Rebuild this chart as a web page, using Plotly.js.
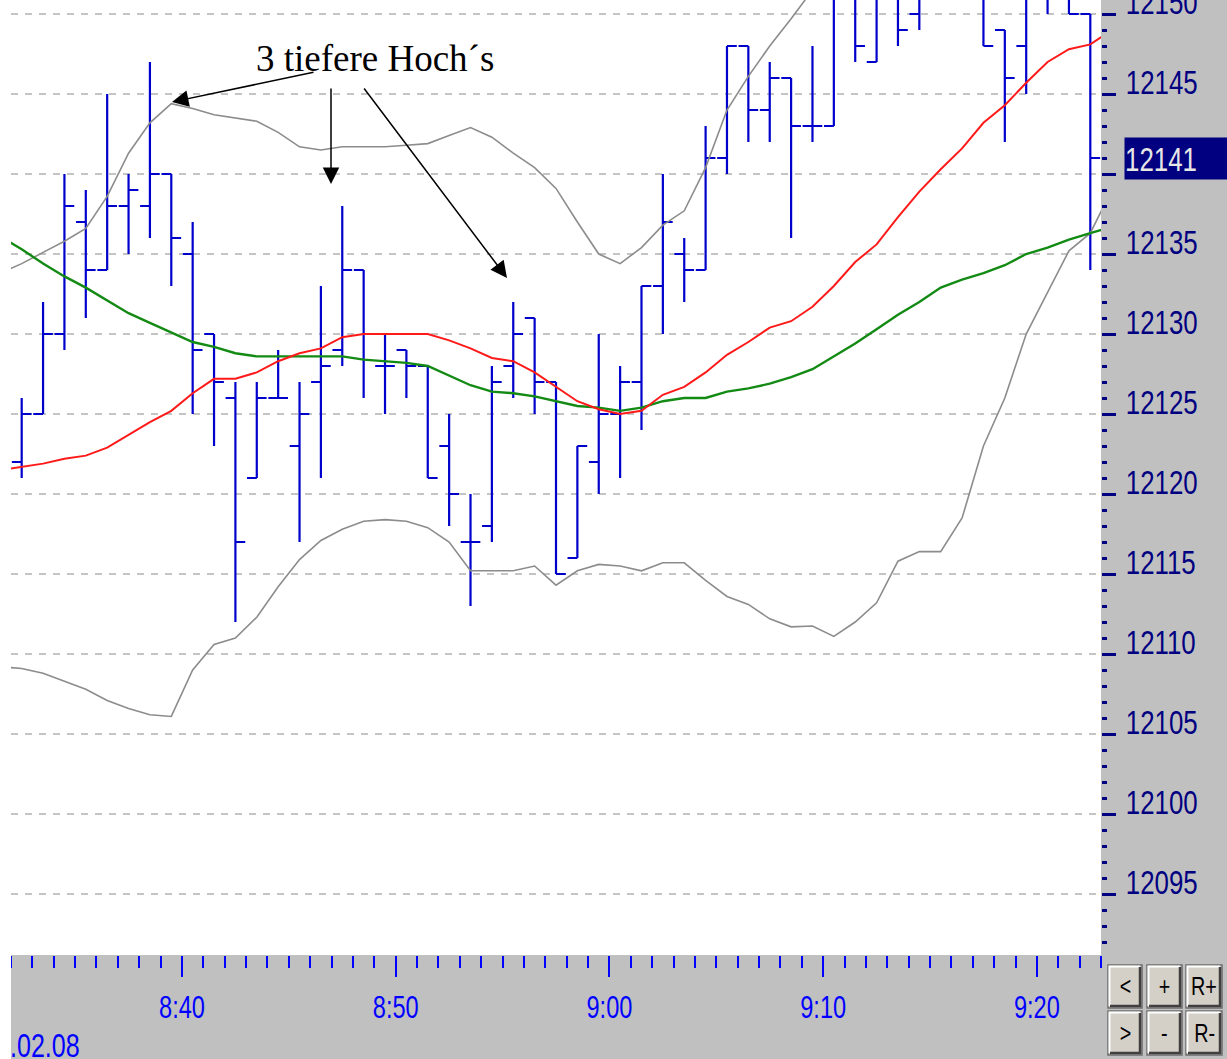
<!DOCTYPE html>
<html><head><meta charset="utf-8">
<script src="https://cdn.plot.ly/plotly-3.0.1.min.js"></script>
<style>html,body{margin:0;padding:0;background:#fff;overflow:hidden}#chart{width:1227px;height:1059px}</style>
</head><body><div id="chart"></div>
<script>
// ---------- data ----------
const chartDate = '2008-02-08';
const barTimes = ['8:32','8:33','8:34','8:35','8:36','8:37','8:38','8:39','8:40','8:41','8:42','8:43','8:44','8:45','8:46','8:47','8:48','8:49','8:50','8:51','8:52','8:53','8:54','8:55','8:56','8:57','8:58','8:59','9:00','9:01','9:02','9:03','9:04','9:05','9:06','9:07','9:08','9:09','9:10','9:11','9:12','9:13','9:14','9:15','9:16','9:17','9:18','9:19','9:20','9:21','9:22'];
const openVals  = [12122,12125,12130,12137,12134,12138,12138,12140,12135,12130,12126,12121,12126,12123,12127,12129,12134,12128,12129,12128,12123,12117,12118,12128,12131,12127,12116,12122,12125,12127,12133,12135,12134,12141,12148,12144,12146,12143,12143,12152,12147,12153,12150,12155,12156,12153,12149,12148,12152,12152,12150];
const highVals  = [12126,12132,12140,12139,12145,12140,12147,12140,12137,12130,12127,12127,12129,12127,12133,12138,12134,12130,12129,12128,12125,12120,12128,12132,12131,12127,12123,12130,12128,12133,12140,12136,12143,12148,12148,12147,12146,12148,12153,12153,12154,12155,12156,12158,12157,12154,12149,12153,12154,12153,12150];
const lowVals   = [12121,12125,12129,12131,12134,12135,12136,12133,12125,12123,12112,12121,12126,12117,12121,12128,12126,12125,12126,12121,12118,12113,12117,12126,12125,12115,12116,12120,12121,12124,12130,12132,12134,12140,12142,12142,12136,12142,12143,12147,12147,12148,12149,12152,12152,12148,12142,12145,12150,12150,12134];
const closeVals = [12125,12130,12138,12134,12138,12139,12140,12136,12129,12127,12117,12126,12126,12125,12128,12134,12130,12128,12128,12121,12120,12117,12127,12130,12127,12115,12123,12125,12127,12133,12137,12134,12141,12148,12144,12146,12143,12143,12152,12148,12153,12149,12155,12156,12153,12148,12146,12152,12152,12150,12141];

const lineTimes = ['8:31','8:32','8:33','8:34','8:35','8:36','8:37','8:38','8:39','8:40','8:41','8:42','8:43','8:44','8:45','8:46','8:47','8:48','8:49','8:50','8:51','8:52','8:53','8:54','8:55','8:56','8:57','8:58','8:59','9:00','9:01','9:02','9:03','9:04','9:05','9:06','9:07','9:08','9:09','9:10','9:11','9:12','9:13','9:14','9:15','9:16','9:17','9:18','9:19','9:20','9:21','9:22','9:23'];
const maFast = [12121.5,12121.7,12121.9,12122.2,12122.4,12122.9,12123.7,12124.5,12125.2,12126.3,12127.2,12127.2,12127.6,12128.3,12128.8,12129.1,12129.8,12130,12130,12130,12130,12129.6,12129.1,12128.5,12128.3,12127.6,12126.7,12125.8,12125.3,12125,12125.2,12126.2,12126.7,12127.6,12128.7,12129.5,12130.4,12130.8,12131.7,12133,12134.5,12135.6,12137.3,12138.9,12140.3,12141.6,12143.2,12144.3,12145.7,12147,12147.8,12148.1,12149];
const maSlow = [12136.1,12135.3,12134.4,12133.6,12132.9,12132.1,12131.3,12130.7,12130.1,12129.5,12129.2,12128.8,12128.6,12128.6,12128.6,12128.6,12128.6,12128.4,12128.3,12128.2,12128,12127.4,12126.8,12126.4,12126.3,12126.1,12125.8,12125.5,12125.4,12125.2,12125.4,12125.8,12126,12126,12126.4,12126.6,12126.9,12127.3,12127.8,12128.6,12129.4,12130.3,12131.2,12132,12132.9,12133.4,12133.8,12134.3,12135,12135.4,12135.9,12136.3,12136.7];
const bandUpper = [12133.8,12134.4,12135.1,12135.8,12136.6,12138.6,12141.3,12143.2,12144.4,12144.1,12143.7,12143.5,12143.3,12142.6,12141.7,12141.5,12141.7,12141.7,12141.7,12141.8,12141.9,12142.4,12142.9,12142.3,12141.3,12140.4,12139.1,12137,12135,12134.4,12135.4,12136.8,12137.7,12140.4,12144,12146.1,12148,12149.7,12151.5,12153,12154.5,12155.5,12156.5,12157.5,12158.2,12158.8,12159.2,12159.6,12160,12160.2,12160.4,12160.5,12160.6];
const bandLower = [12109.2,12109.1,12108.8,12108.3,12107.8,12107.1,12106.6,12106.2,12106.1,12109,12110.6,12111,12112.3,12114.2,12115.9,12117.1,12117.8,12118.3,12118.4,12118.3,12117.9,12117,12115.2,12115.2,12115.2,12115.5,12114.3,12115.2,12115.6,12115.5,12115.2,12115.7,12115.7,12114.6,12113.6,12113.1,12112.2,12111.7,12111.75,12111.1,12112,12113.2,12115.8,12116.4,12116.4,12118.5,12123,12126,12130,12132.6,12135.2,12136.3,12139];

const yTickVals = [12095,12100,12105,12110,12115,12120,12125,12130,12135,12140,12145,12150];
const yTickText = ['12095','12100','12105','12110','12115','12120','12125','12130','12135','','12145','12150'];
const lastPrice = 12141;
const noteText = '3 tiefere Hoch\u00b4s';
const dateLabel = '.02.08';
const buttonLabels = ['<','+','R+','>','-','R-'];

// ---------- helpers ----------
function pad(t){const p=t.split(':');return (p[0].length<2?'0':'')+p[0]+':'+p[1];}
function toDate(t){return chartDate+' '+pad(t);}
const W=1227,H=1059,L=11,R=1101,T=0,B=955;
const px=x=>(x-L)/(R-L);
const py=y=>(B-y)/(B-T);

const SANS='"Liberation Sans",Arial,sans-serif';

const traces=[
 {type:'ohlc',x:barTimes.map(toDate),open:openVals,high:highVals,low:lowVals,close:closeVals,
  xperiod:60000,xperiodalignment:'middle',tickwidth:0.46,
  increasing:{line:{color:'#0000cc',width:2.2}},decreasing:{line:{color:'#0000cc',width:2.2}},hoverinfo:'skip'},
 {type:'scatter',mode:'lines',x:lineTimes.map(toDate),y:bandUpper,xperiod:60000,xperiodalignment:'middle',line:{color:'#8c8c8c',width:1.6},hoverinfo:'skip'},
 {type:'scatter',mode:'lines',x:lineTimes.map(toDate),y:bandLower,xperiod:60000,xperiodalignment:'middle',line:{color:'#8c8c8c',width:1.6},hoverinfo:'skip'},
 {type:'scatter',mode:'lines',x:lineTimes.map(toDate),y:maSlow,xperiod:60000,xperiodalignment:'middle',line:{color:'#138a13',width:2.4},hoverinfo:'skip'},
 {type:'scatter',mode:'lines',x:lineTimes.map(toDate),y:maFast,xperiod:60000,xperiodalignment:'middle',line:{color:'#ff1a1a',width:2},hoverinfo:'skip'}
];

const shapes=[
 {type:'rect',xref:'paper',yref:'paper',x0:px(0),x1:px(L),y0:py(H),y1:py(0),fillcolor:'#ffffff',line:{width:0},layer:'above'}
];
const annotations=[
 {xref:'paper',yref:'paper',x:px(375),y:py(58),text:noteText,showarrow:false,xanchor:'center',yanchor:'middle',
  font:{family:'"Liberation Serif","Times New Roman",serif',size:37,color:'#000'}},
 {xref:'paper',yref:'paper',x:px(172),y:py(102),ax:143,ay:-30,text:'',showarrow:true,arrowhead:2,arrowsize:2.2,arrowwidth:1.5,arrowcolor:'#000'},
 {xref:'paper',yref:'paper',x:px(331),y:py(184),ax:0,ay:-97,text:'',showarrow:true,arrowhead:2,arrowsize:2.2,arrowwidth:1.5,arrowcolor:'#000'},
 {xref:'paper',yref:'paper',x:px(507),y:py(278),ax:-144,ay:-191,text:'',showarrow:true,arrowhead:2,arrowsize:2.2,arrowwidth:1.5,arrowcolor:'#000'},
 {xref:'paper',yref:'y',x:px(1124),y:lastPrice,text:String(lastPrice),showarrow:false,xanchor:'left',yanchor:'middle',
  bgcolor:'#000080',font:{family:SANS,size:34,color:'#e6e6e6'},width:110,height:41,align:'left',borderpad:0},
 {xref:'paper',yref:'paper',x:px(-3),y:py(1045),text:dateLabel,showarrow:false,xanchor:'left',yanchor:'middle',
  font:{family:SANS,size:33,color:'#0000ff'}}
];
// buttons
const cols=[[1108,1142],[1147,1182],[1186,1222]], rows=[[965,1008],[1011,1055]];
buttonLabels.forEach((lab,i)=>{
 const c=cols[i%3], r=rows[Math.floor(i/3)];
 shapes.push({type:'rect',xref:'paper',yref:'paper',x0:px(c[0]),x1:px(c[1]),y0:py(r[1]),y1:py(r[0]),fillcolor:'#d4d0c8',line:{color:'#6e6e6e',width:1.5},layer:'above'});
 shapes.push({type:'path',xref:'paper',yref:'paper',path:`M${px(c[0]+1.5)},${py(r[1]-2)} L${px(c[0]+1.5)},${py(r[0]+1.5)} L${px(c[1]-2)},${py(r[0]+1.5)}`,line:{color:'#ffffff',width:2},layer:'above'});
 shapes.push({type:'path',xref:'paper',yref:'paper',path:`M${px(c[0]+2)},${py(r[1]-2)} L${px(c[1]-2)},${py(r[1]-2)} L${px(c[1]-2)},${py(r[0]+2)}`,line:{color:'#404040',width:2.5},layer:'above'});
 annotations.push({xref:'paper',yref:'paper',x:px((c[0]+c[1])/2),y:py((r[0]+r[1])/2),text:lab,showarrow:false,
  font:{family:SANS,size:26,color:'#000'},xanchor:'center',yanchor:'middle'});
});

const layout={
 width:W,height:H,margin:{l:L,r:W-R,t:T,b:H-B,pad:0},
 paper_bgcolor:'#c0c0c0',plot_bgcolor:'#ffffff',showlegend:false,
 xaxis:{type:'date',range:[toDate('8:32'),toDate('9:23')],rangeslider:{visible:false},
  tick0:chartDate+' 08:00',dtick:600000,tickformat:'%-H:%M',showgrid:false,zeroline:false,showline:false,
  ticks:'outside',ticklen:21,tickwidth:2,tickcolor:'#0000ff',ticklabelstandoff:4,
  minor:{dtick:60000,ticks:'outside',ticklen:12,tickwidth:2,tickcolor:'#0000ff',showgrid:false},
  tickfont:{family:SANS,size:31,color:'#0000ff'},fixedrange:true},
 yaxis:{side:'right',range:[12091.19,12150.875],tickmode:'array',tickvals:yTickVals,ticktext:yTickText,
  zeroline:false,showline:false,ticklabeloverflow:'allow',
  showgrid:true,gridcolor:'#c4c4c4',gridwidth:2,griddash:'7px,7px',
  ticks:'outside',ticklen:14,tickwidth:3,tickcolor:'#000080',
  minor:{dtick:1,tick0:12095,ticks:'outside',ticklen:5,tickwidth:3,tickcolor:'#000080',showgrid:false},
  ticklabelshift:-12,ticklabelstandoff:3,
  tickfont:{family:SANS,size:34,color:'#000080'},fixedrange:true},
 shapes:shapes,annotations:annotations
};
// condense label glyphs horizontally, like the narrow screen font of the original
function squeeze(nodes,f){
 nodes.forEach(t=>{const w=t.getComputedTextLength();if(w>0){t.setAttribute('textLength',(w*f).toFixed(1));t.setAttribute('lengthAdjust','spacingAndGlyphs');}});
}
Plotly.newPlot('chart',traces,layout,{staticPlot:true,displayModeBar:false}).then(gd=>{
 squeeze(gd.querySelectorAll('g.xtick text, g.ytick text'),0.76);
 const ann=gd.querySelectorAll('g.annotation');
 ann.forEach((g,i)=>{ if(i>=4){ squeeze(g.querySelectorAll('text.annotation-text'),0.76);} });
});
</script></body></html>
